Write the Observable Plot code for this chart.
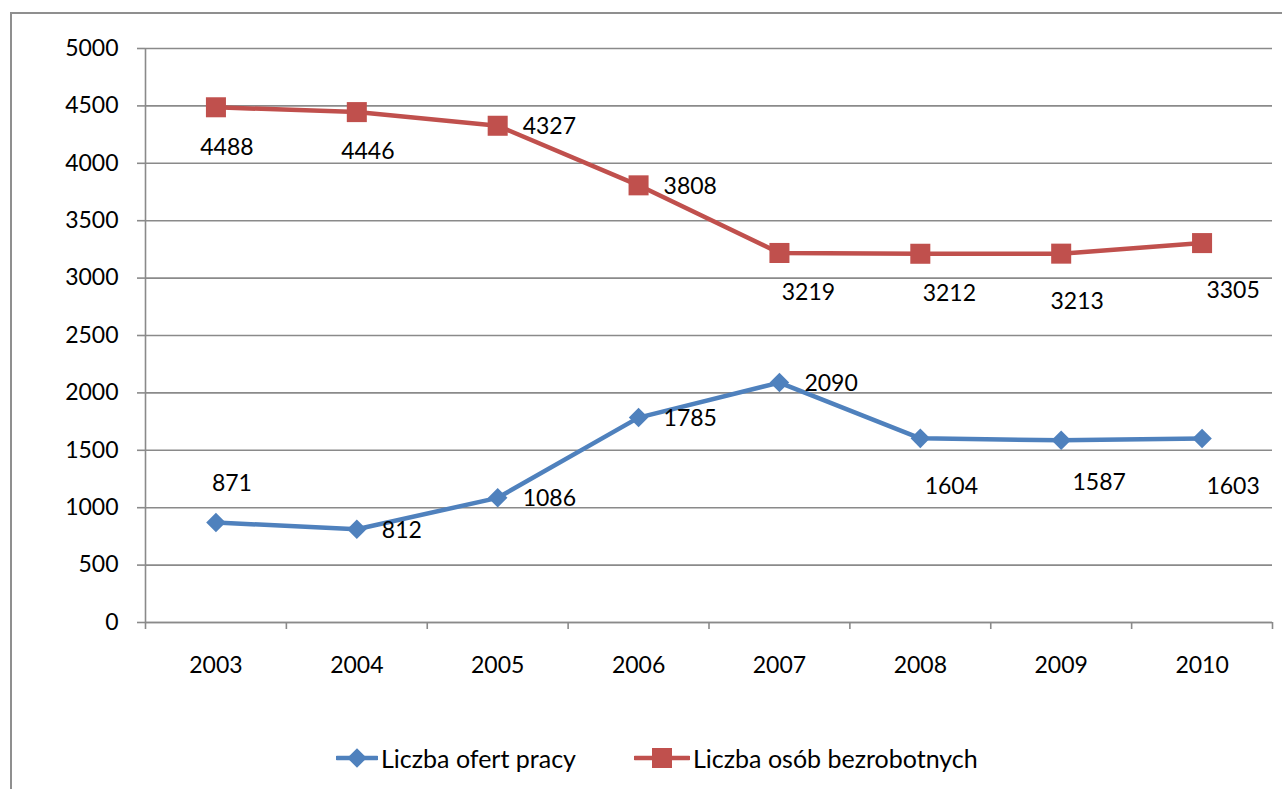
<!DOCTYPE html>
<html>
<head>
<meta charset="utf-8">
<script src="https://cdn.jsdelivr.net/npm/d3@7"></script>
<script src="https://cdn.jsdelivr.net/npm/@observablehq/plot@0.6"></script>
<style>
  html, body { margin: 0; padding: 0; background: #fff; width: 1282px; height: 789px; overflow: hidden; }
  #frame { position: absolute; left: 10px; top: 12px; width: 1400px; height: 1000px; border: 2px solid #8f8f8f; box-sizing: border-box; }
  #chart { position: absolute; left: 0; top: 0; }
  #legend { position: absolute; left: 336px; top: 743px; display: flex; align-items: center; font-family: Lato, sans-serif; font-size: 25px; color: #000; }
  .item { display: flex; align-items: center; }
  .item svg { display: block; }
</style>
</head>
<body>
<div id="frame"></div>
<div id="chart"></div>
<div id="legend"></div>
<script>
// ---- data ----
const years = [2003, 2004, 2005, 2006, 2007, 2008, 2009, 2010];
const ofertyPracy = [871, 812, 1086, 1785, 2090, 1604, 1587, 1603];
const bezrobotni = [4488, 4446, 4327, 3808, 3219, 3212, 3213, 3305];
const seriesNames = ["Liczba ofert pracy", "Liczba osób bezrobotnych"];
const yTicks = [0, 500, 1000, 1500, 2000, 2500, 3000, 3500, 4000, 4500, 5000];
// data label placement codes (Excel-style)
const ofertyLabelPos = ["above", "right", "right", "right", "right", "belowRightLow", "belowFar", "belowRightLow"];
const bezrobotniLabelPos = ["below", "below", "right", "right", "belowRight", "belowRight", "belowLow", "belowRightLow"];

// ---- styling ----
const blue = "#4F81BD", red = "#C0504D", grid = "#8a8a8a";
const font = "Lato, sans-serif";
const placements = {
  above: {dx: 16, dy: -39, textAnchor: "middle"},
  below: {dx: 11, dy: 40, textAnchor: "middle"},
  belowLow: {dx: 16, dy: 48, textAnchor: "middle"},
  belowRight: {dx: 29, dy: 40, textAnchor: "middle"},
  belowFar: {dx: 38, dy: 42, textAnchor: "middle"},
  belowRightLow: {dx: 31, dy: 48, textAnchor: "middle"},
  right: {dx: 25, dy: 1, textAnchor: "start"}
};

const ofertyData = years.map((year, i) => ({year, value: ofertyPracy[i], pos: ofertyLabelPos[i]}));
const bezData = years.map((year, i) => ({year, value: bezrobotni[i], pos: bezrobotniLabelPos[i]}));

function labels(data) {
  return Object.entries(placements).map(([key, p]) =>
    Plot.text(data.filter(d => d.pos === key), {
      x: "year", y: "value", text: d => String(d.value),
      dx: p.dx, dy: p.dy, textAnchor: p.textAnchor, fill: "#000", fontSize: 23
    })
  );
}

const boundaries = d3.range(years[0] - 0.5, years[years.length - 1] + 1, 1);

const chart = Plot.plot({
  width: 1282,
  height: 700,
  marginLeft: 145,
  marginRight: 10,
  marginTop: 48,
  marginBottom: 78,
  style: {fontFamily: font, fontSize: "23px", color: "#000", background: "transparent"},
  x: {domain: [years[0] - 0.5, years[years.length - 1] + 0.5]},
  y: {domain: [0, 5000]},
  marks: [
    Plot.gridY(yTicks, {stroke: grid, strokeOpacity: 1, strokeWidth: 1.6}),
    Plot.ruleX([boundaries[0]], {stroke: grid, strokeWidth: 1.6}),
    Plot.ruleY([0], {stroke: grid, strokeWidth: 1.6}),
    Plot.axisY({ticks: yTicks, tickSize: 8, tickPadding: 19, tickFormat: d => String(d), label: null, stroke: grid, strokeWidth: 1.6, fill: "#000", fontSize: 23}),
    Plot.axisX({ticks: boundaries, tickSize: 7, tickFormat: () => "", label: null, stroke: grid, strokeWidth: 1.6}),
    Plot.axisX({ticks: years, tickSize: 0, tickPadding: 34, tickFormat: d => String(d), label: null, fill: "#000", fontSize: 23}),
    Plot.line(bezData, {x: "year", y: "value", stroke: red, strokeWidth: 4.5}),
    Plot.dot(bezData, {x: "year", y: "value", symbol: "square", r: 11.3, fill: red, stroke: "none"}),
    Plot.line(ofertyData, {x: "year", y: "value", stroke: blue, strokeWidth: 4.5}),
    Plot.dot(ofertyData, {x: "year", y: "value", symbol: "diamond2", r: 8.8, fill: blue, stroke: "none"}),
    ...labels(bezData),
    ...labels(ofertyData)
  ]
});
document.getElementById("chart").appendChild(chart);

// ---- legend ----
const legend = d3.select("#legend");
const items = [
  {name: seriesNames[0], color: blue, symbol: d3.symbolDiamond2, size: Math.PI * 8.8 * 8.8, w: 42, gap: 58},
  {name: seriesNames[1], color: red, symbol: d3.symbolSquare, size: Math.PI * 11.3 * 11.3, w: 56, gap: 0}
];
items.forEach(it => {
  const div = legend.append("div").attr("class", "item").style("margin-right", it.gap + "px");
  const svg = div.append("svg").attr("width", it.w).attr("height", 26);
  svg.append("line").attr("x1", 1).attr("x2", it.w - 1).attr("y1", 13).attr("y2", 13)
    .attr("stroke", it.color).attr("stroke-width", 4.5).attr("stroke-linecap", "round");
  svg.append("path").attr("d", d3.symbol(it.symbol, it.size)()).attr("transform", `translate(${it.w / 2},13)`).attr("fill", it.color);
  div.append("span").style("margin-left", "3px").text(it.name);
});
</script>
</body>
</html>
